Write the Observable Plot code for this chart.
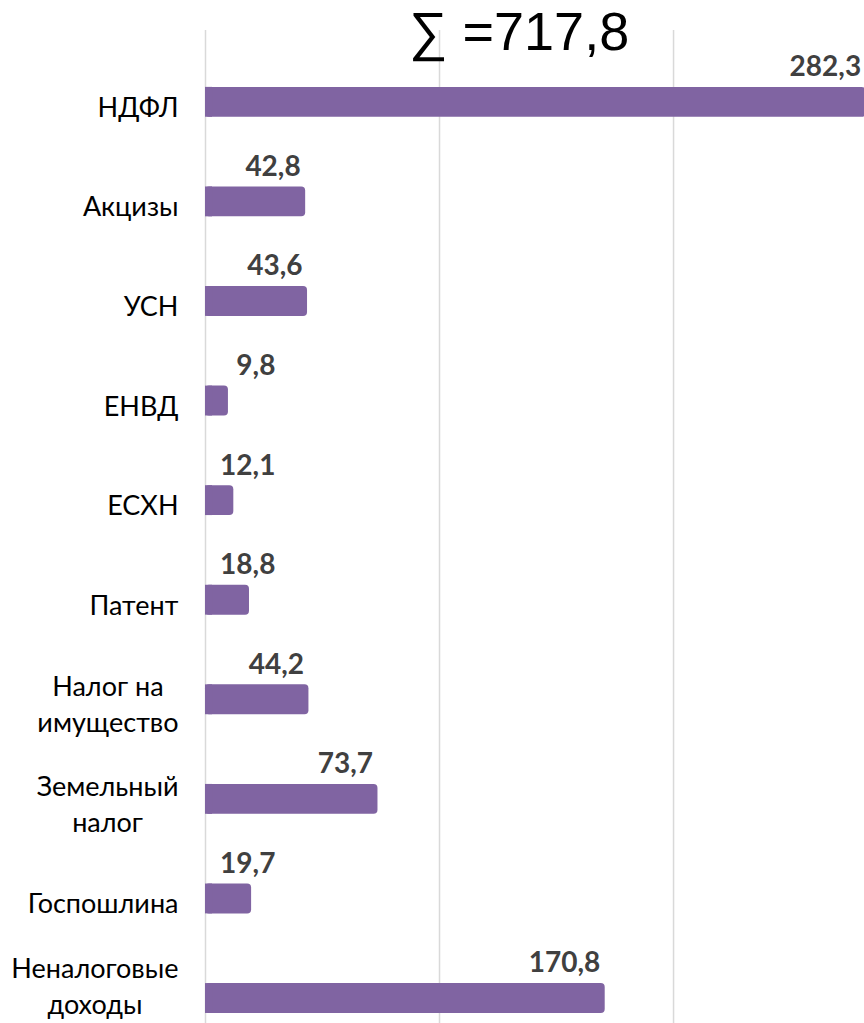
<!DOCTYPE html>
<html>
<head>
<meta charset="utf-8">
<script src="https://cdn.jsdelivr.net/npm/d3@7"></script>
<script src="https://cdn.jsdelivr.net/npm/@observablehq/plot@0.6"></script>
<style>
html, body { margin: 0; padding: 0; background: #fff; overflow: hidden; }
#wrap { position: relative; width: 864px; height: 1023px; }
#title { position: absolute; left: 409px; top: 4px; font-family: "Liberation Sans", Arial, sans-serif; font-size: 54px; line-height: 54px; color: #000; white-space: nowrap; }
</style>
</head>
<body>
<div id="wrap"><div id="title"></div></div>
<script>
const categories = ["НДФЛ", "Акцизы", "УСН", "ЕНВД", "ЕСХН", "Патент", "Налог на\nимущество", "Земельный\nналог", "Госпошлина", "Неналоговые\nдоходы"];
const values = [282.3, 42.8, 43.6, 9.8, 12.1, 18.8, 44.2, 73.7, 19.7, 170.8];
const gridTicks = [0, 100, 200];

const fmt = v => v.toFixed(1).replace(".", ",");
const data = categories.map((c, i) => ({category: c, value: values[i]}));
const total = d3.sum(values);
document.getElementById("title").textContent = "∑ =" + fmt(total);

const H = 1023;
const chart = Plot.plot({
  width: 864,
  height: H,
  marginLeft: 205,
  marginRight: 0,
  marginTop: 30,
  marginBottom: 0,
  style: {background: "transparent", fontFamily: "Lato, sans-serif"},
  x: {domain: [0, 281.6], axis: null},
  y: {domain: categories, axis: null, paddingInner: 0.7, paddingOuter: 0.336, align: 0.85, round: false},
  marks: [
    Plot.ruleX(gridTicks, {stroke: "#d9d9d9", strokeWidth: 1.5}),
    Plot.barX(data, {x: "value", y: "category", fill: "#8064A2", rx: 4}),
    Plot.barX(data, {x1: 0, x2: d => Math.min(d.value, 3), y: "category", fill: "#8064A2"}),
    Plot.text(data, {x: d => Math.max(d.value, 32), y: "category", text: d => fmt(d.value), textAnchor: "end", dx: -5, dy: -35, fontSize: 28, fontWeight: "bold", fill: "#404040"}),
    Plot.text(data, {y: "category", frameAnchor: "left", text: "category", textAnchor: "end", dx: -27, dy: 3, fontSize: 27, lineHeight: 1.33, fill: "#000"})
  ]
});
document.getElementById("wrap").appendChild(chart);

// center wrapped lines within each right-aligned label block; keep blocks inside the picture
const svgRect = chart.getBoundingClientRect();
const textGroups = chart.querySelectorAll('g[aria-label="text"]');
const catGroup = textGroups[textGroups.length - 1];
catGroup.querySelectorAll("text").forEach(function(el) {
  const w = el.getBBox().width;
  const r = el.getBoundingClientRect();
  const overflow = Math.max(0, (r.bottom - svgRect.top) - (H - 3));
  el.setAttribute("text-anchor", "middle");
  const t = el.getAttribute("transform") || "";
  el.setAttribute("transform", t + ` translate(${-w / 2},${-overflow})`);
});
</script>
</body>
</html>
